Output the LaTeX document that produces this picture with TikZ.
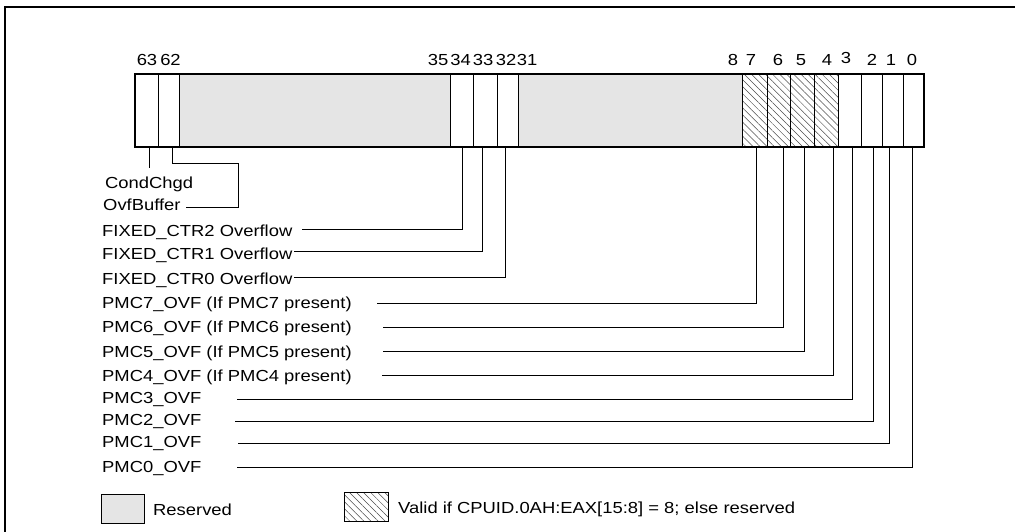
\documentclass[tikz,border=0pt]{standalone}
\usepackage{fontspec}
\setmainfont{Liberation Sans}[FakeStretch=1.15]
\usetikzlibrary{patterns.meta}
\begin{document}
\begin{tikzpicture}[x=1pt,y=-1pt,
  lbl/.style={font=\fontsize{16}{19}\selectfont, inner sep=0pt, anchor=base west},
  num/.style={font=\fontsize{16}{19}\selectfont, inner sep=0pt, anchor=base},
  conn/.style={line width=0.9pt},
  divline/.style={line width=0.9pt},
  hatch/.style={pattern={Lines[angle=-45,distance=5pt,line width=0.5pt]}, pattern color=black!70},
  resv/.style={fill=black!10}]
\path[use as bounding box] (0,0) rectangle (1015,532);
% outer frame (cropped)
\draw[line width=2pt] (5,545) -- (5,7) -- (1030,7);

% register fields
\fill[resv] (179,74) rectangle (450,147);
\fill[resv] (518,74) rectangle (742,147);
\fill[hatch] (742,74) rectangle (838,147);
\foreach \x in {158,179,450,473,497,518,742,767,790,814,838,861,882,903}
  \draw[divline] (\x,74) -- (\x,147);
\draw[line width=1.8pt] (135,74) rectangle (924,147);

% bit numbers
\node[num] (n63) at (147,66) {63};
\node[num] (n62) at (170.5,66) {62};
\node[num] (n35) at (438,66) {35};
\node[num] (n34) at (460.5,66) {34};
\node[num] (n33) at (483,66) {33};
\node[num] (n32) at (506,66) {32};
\node[num] (n31) at (527,66) {31};
\node[num] (n8) at (733,66) {8};
\node[num] (n7) at (751,66) {7};
\node[num] (n6) at (778,66) {6};
\node[num] (n5) at (801,66) {5};
\node[num] (n4) at (827,66) {4};
\node[num] (n3) at (846,64) {3};
\node[num] (n2) at (872,66) {2};
\node[num] (n1) at (891,66) {1};
\node[num] (n0) at (912,66) {0};

% labels
\node[lbl] (lcc) at (105,189) {CondChgd};
\node[lbl] (lob) at (103,211) {OvfBuffer};
\node[lbl] (lf2) at (102,236) {FIXED\_CTR2 Overflow};
\node[lbl] (lf1) at (102,259) {FIXED\_CTR1 Overflow};
\node[lbl] (lf0) at (102,284) {FIXED\_CTR0 Overflow};
\node[lbl] (lp7) at (102,308) {PMC7\_OVF (If PMC7 present)};
\node[lbl] (lp6) at (102,332) {PMC6\_OVF (If PMC6 present)};
\node[lbl] (lp5) at (102,357) {PMC5\_OVF (If PMC5 present)};
\node[lbl] (lp4) at (102,381) {PMC4\_OVF (If PMC4 present)};
\node[lbl] (lp3) at (102,403) {PMC3\_OVF};
\node[lbl] (lp2) at (102,425) {PMC2\_OVF};
\node[lbl] (lp1) at (102,447) {PMC1\_OVF};
\node[lbl] (lp0) at (102,472) {PMC0\_OVF};

% connector coordinates
\coordinate (b63) at (149,147); \coordinate (e63) at (149,168);
\coordinate (b62) at (172,147); \coordinate (s62) at (186,207);
\coordinate (b34) at (462,147); \coordinate (s34) at (302,229);
\coordinate (b33) at (482,147); \coordinate (s33) at (294,251);
\coordinate (b32) at (505,147); \coordinate (s32) at (294,277);
\coordinate (b7) at (756,147); \coordinate (s7) at (377,303);
\coordinate (b6) at (783,147); \coordinate (s6) at (383,327);
\coordinate (b5) at (804,147); \coordinate (s5) at (383,351);
\coordinate (b4) at (833,147); \coordinate (s4) at (382,375);
\coordinate (b3) at (852,147); \coordinate (s3) at (237,399);
\coordinate (b2) at (873,147); \coordinate (s2) at (235,421);
\coordinate (b1) at (889,147); \coordinate (s1) at (238,443);
\coordinate (b0) at (912,147); \coordinate (s0) at (237,467);

\draw[conn] (b63) -- (e63);
\draw[conn] (s62) -- (238,207) |- (172,163) -- (b62);
\foreach \s/\b in {s34/b34,s33/b33,s32/b32,s7/b7,s6/b6,s5/b5,s4/b4,s3/b3,s2/b2,s1/b1,s0/b0}
  \draw[conn] (\s) -| (\b);

% legend
\draw[resv, draw=black, line width=0.9pt] (101,494) rectangle (144,523);
\node[lbl] (lres) at (153,515) {Reserved};
\draw[hatch, draw=black, line width=0.9pt] (344,492) rectangle (388,521);
\node[lbl] (lval) at (398,513) {Valid if CPUID.0AH:EAX[15:8] = 8; else reserved};
\end{tikzpicture}
\end{document}
